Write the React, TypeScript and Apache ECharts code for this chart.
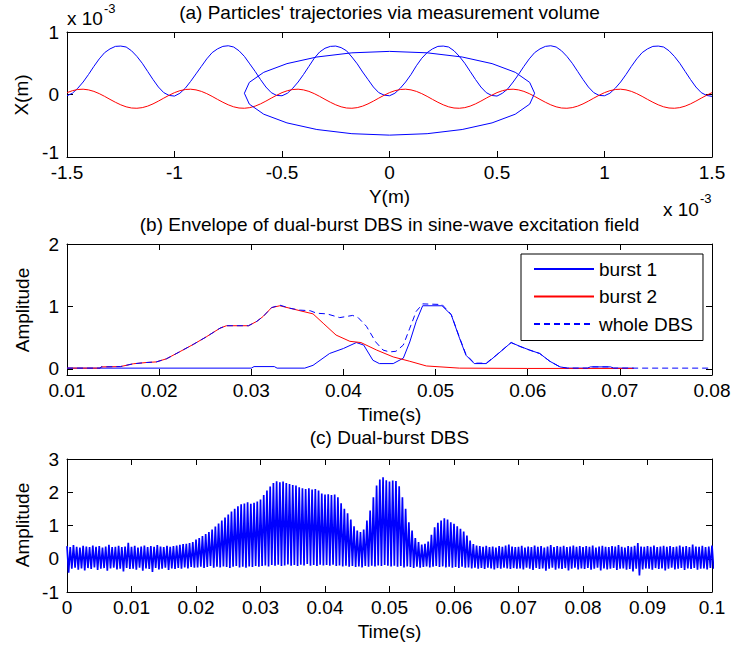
import React, { useEffect, useRef } from "react";
import * as echarts from "echarts";

// ---------- (a) Particles' trajectories (Y and X in units of 1e-3 m) ----------
const trajStartY = -1.5;
const trajStepY = 0.025;
const blueTrajX = [
  -0.02, 0.02, 0.10, 0.20, 0.32, 0.45, 0.57, 0.67, 0.73, 0.77, 0.775, 0.76, 0.70, 0.61, 0.50, 0.37, 0.24, 0.12, 0.03, -0.015,
  -0.025, 0.02, 0.10, 0.21, 0.33, 0.45, 0.57, 0.67, 0.73, 0.77, 0.78, 0.76, 0.70, 0.61, 0.49, 0.37, 0.24, 0.12, 0.03, -0.015,
  -0.02, 0.02, 0.10, 0.20, 0.32, 0.45, 0.58, 0.68, 0.74, 0.77, 0.775, 0.75, 0.70, 0.60, 0.49, 0.36, 0.24, 0.12, 0.03, -0.01,
  -0.02, 0.02, 0.10, 0.20, 0.32, 0.46, 0.58, 0.67, 0.73, 0.77, 0.775, 0.76, 0.70, 0.61, 0.50, 0.37, 0.24, 0.12, 0.03, -0.015,
  -0.025, 0.02, 0.09, 0.20, 0.32, 0.45, 0.57, 0.67, 0.73, 0.77, 0.78, 0.76, 0.70, 0.61, 0.50, 0.37, 0.24, 0.12, 0.03, -0.015,
  -0.02, 0.02, 0.10, 0.20, 0.32, 0.45, 0.57, 0.67, 0.73, 0.77, 0.775, 0.76, 0.70, 0.61, 0.50, 0.37, 0.24, 0.12, 0.03, -0.015,
  -0.03,
];
const redTrajX = [
  0.03, 0.061, 0.08, 0.085, 0.074, 0.05, 0.014, -0.03, -0.078, -0.124, -0.165, -0.197, -0.216, -0.22, -0.21, -0.186, -0.15, -0.106, -0.058, -0.012,
  0.03, 0.061, 0.08, 0.085, 0.074, 0.05, 0.014, -0.03, -0.078, -0.124, -0.165, -0.197, -0.216, -0.22, -0.21, -0.186, -0.15, -0.106, -0.058, -0.012,
  0.03, 0.061, 0.08, 0.085, 0.074, 0.05, 0.014, -0.03, -0.078, -0.124, -0.165, -0.197, -0.216, -0.22, -0.21, -0.186, -0.15, -0.106, -0.058, -0.012,
  0.03, 0.061, 0.08, 0.085, 0.074, 0.05, 0.014, -0.03, -0.078, -0.124, -0.165, -0.197, -0.216, -0.22, -0.21, -0.186, -0.15, -0.106, -0.058, -0.012,
  0.03, 0.061, 0.08, 0.085, 0.074, 0.05, 0.014, -0.03, -0.078, -0.124, -0.165, -0.197, -0.216, -0.22, -0.21, -0.186, -0.15, -0.106, -0.058, -0.012,
  0.03, 0.061, 0.08, 0.085, 0.074, 0.05, 0.014, -0.03, -0.078, -0.124, -0.165, -0.197, -0.216, -0.22, -0.21, -0.186, -0.15, -0.106, -0.058, -0.012,
  0.03,
];
const ellipseY = [0.675, 0.652, 0.585, 0.477, 0.338, 0.175, 0, -0.175, -0.338, -0.477, -0.585, -0.652, -0.675,
  -0.652, -0.585, -0.477, -0.338, -0.175, 0, 0.175, 0.338, 0.477, 0.585, 0.652, 0.675];
const ellipseX = [0.02, 0.194, 0.355, 0.494, 0.6, 0.667, 0.69, 0.667, 0.6, 0.494, 0.355, 0.194, 0.02,
  -0.154, -0.315, -0.454, -0.56, -0.627, -0.65, -0.627, -0.56, -0.454, -0.315, -0.154, 0.02];
const ticksAx = [-1.5, -1, -0.5, 0, 0.5, 1, 1.5];
const ticksAy = [-1, 0, 1];

// ---------- (b) Envelopes ----------
const burst1T = [0.010, 0.0300, 0.0303, 0.0325, 0.0328, 0.0358, 0.0367, 0.0385, 0.0400, 0.0414, 0.0422, 0.0432, 0.0439,
  0.0454, 0.0465, 0.0472, 0.0479, 0.0486, 0.0507, 0.0517, 0.0526, 0.0533, 0.0542, 0.0555, 0.0566, 0.0582, 0.0591,
  0.0602, 0.0613, 0.0624, 0.0635, 0.0643, 0.0665, 0.0668, 0.0690, 0.0693, 0.0715];
const burst1A = [0.01, 0.01, 0.035, 0.035, 0.01, 0.01, 0.055, 0.245, 0.325, 0.42, 0.38, 0.136, 0.083,
  0.083, 0.17, 0.43, 0.76, 1.01, 1.01, 0.865, 0.49, 0.217, 0.083, 0.083, 0.217, 0.42, 0.363,
  0.30, 0.245, 0.12, 0.03, 0.01, 0.01, 0.03, 0.03, 0.01, 0.01];
const burst2T = [0.010, 0.0136, 0.0137, 0.0158, 0.0172, 0.0186, 0.0197, 0.0208, 0.0222, 0.0237, 0.0251, 0.0266, 0.0273,
  0.0297, 0.0306, 0.0313, 0.0322, 0.0331, 0.0342, 0.0353, 0.0367, 0.0378, 0.0392, 0.0407, 0.0419, 0.0436, 0.0454,
  0.0472, 0.0490, 0.0526, 0.0600, 0.0715];
const burst2A = [0.01, 0.01, 0.03, 0.035, 0.08, 0.10, 0.11, 0.16, 0.27, 0.39, 0.51, 0.65, 0.69,
  0.69, 0.76, 0.84, 0.98, 1.01, 0.97, 0.93, 0.88, 0.73, 0.54, 0.44, 0.42, 0.30, 0.19,
  0.12, 0.045, 0.01, 0.005, 0.005];
const wholeT = [0.010, 0.0136, 0.0137, 0.0158, 0.0172, 0.0186, 0.0197, 0.0208, 0.0222, 0.0237, 0.0251, 0.0266, 0.0273,
  0.0297, 0.0306, 0.0313, 0.0322, 0.0331, 0.0342, 0.0353, 0.0364, 0.0371, 0.0382, 0.0396, 0.0410, 0.0416, 0.0425,
  0.0435, 0.0443, 0.0450, 0.0457, 0.0465, 0.0472, 0.0479, 0.0486, 0.0507, 0.0517, 0.0526, 0.0533, 0.0542, 0.0555,
  0.0566, 0.0582, 0.0591, 0.0602, 0.0613, 0.0624, 0.0635, 0.0643, 0.0665, 0.0668, 0.0690, 0.0693, 0.0800];
const wholeA = [0.01, 0.01, 0.03, 0.035, 0.08, 0.10, 0.11, 0.16, 0.27, 0.39, 0.51, 0.65, 0.69,
  0.69, 0.76, 0.84, 0.98, 1.02, 0.97, 0.94, 0.93, 0.89, 0.88, 0.82, 0.855, 0.82, 0.68,
  0.43, 0.30, 0.27, 0.28, 0.38, 0.65, 0.92, 1.04, 1.03, 0.87, 0.50, 0.23, 0.09, 0.09,
  0.22, 0.42, 0.36, 0.30, 0.245, 0.12, 0.03, 0.01, 0.01, 0.03, 0.03, 0.01, 0.01];
const ticksBx = [0.01, 0.02, 0.03, 0.04, 0.05, 0.06, 0.07, 0.08];
const ticksBy = [0, 1, 2];
const legendNames = ["burst 1", "burst 2", "whole DBS"];

// ---------- (c) Dual-burst DBS (upper / lower swing of the signal every 0.5 ms) ----------
const dbsStep = 0.0005;
const dbsUpper = [
  0.38, 0.35, 0.41, 0.36, 0.34, 0.39, 0.37, 0.35, 0.40, 0.36, 0.38, 0.34, 0.37, 0.42, 0.35, 0.36, 0.39, 0.35, 0.37, 0.48,
  0.36, 0.39, 0.34, 0.37, 0.40, 0.35, 0.38, 0.36, 0.41, 0.37, 0.35, 0.39, 0.36, 0.38, 0.40, 0.42, 0.44, 0.45, 0.47, 0.50,
  0.58, 0.62, 0.68, 0.74, 0.80, 0.88, 0.97, 1.06, 1.15, 1.24, 1.33, 1.42, 1.50, 1.58, 1.64, 1.66, 1.70, 1.65, 1.68, 1.72,
  1.78, 1.92, 2.05, 2.17, 2.28, 2.33, 2.30, 2.32, 2.28, 2.25, 2.22, 2.20, 2.15, 2.12, 2.10, 2.12, 2.08, 2.10, 2.05, 1.96,
  1.93, 1.94, 1.92, 1.93, 1.85, 1.67, 1.50, 1.37, 1.18, 0.98, 0.85, 0.80, 0.88, 1.15, 1.45, 1.85, 2.20, 2.38, 2.45, 2.36,
  2.32, 2.35, 2.34, 2.18, 1.85, 1.50, 1.10, 0.85, 0.62, 0.50, 0.43, 0.45, 0.52, 0.72, 0.95, 1.08, 1.15, 1.22, 1.18, 1.10,
  1.05, 0.98, 0.90, 0.82, 0.70, 0.55, 0.44, 0.40, 0.38, 0.36, 0.39, 0.35, 0.37, 0.34, 0.38, 0.36, 0.40, 0.43, 0.37, 0.35,
  0.36, 0.39, 0.34, 0.37, 0.35, 0.40, 0.36, 0.38, 0.34, 0.37, 0.41, 0.35, 0.38, 0.36, 0.39, 0.35, 0.37, 0.40, 0.36, 0.38,
  0.35, 0.38, 0.36, 0.40, 0.34, 0.37, 0.39, 0.36, 0.35, 0.38, 0.37, 0.41, 0.36, 0.34, 0.38, 0.36, 0.39, 0.47, 0.37, 0.36,
  0.38, 0.36, 0.40, 0.35, 0.37, 0.39, 0.36, 0.38, 0.35, 0.37, 0.40, 0.36, 0.38, 0.35, 0.43, 0.37, 0.36, 0.39, 0.35, 0.37, 0.40,
];
const dbsLower = [
  -0.42, -0.30, -0.27, -0.33, -0.29, -0.35, -0.28, -0.31, -0.26, -0.34, -0.30, -0.28, -0.36, -0.29, -0.27, -0.32, -0.30, -0.38, -0.28, -0.31,
  -0.30, -0.33, -0.27, -0.36, -0.29, -0.31, -0.40, -0.28, -0.32, -0.30, -0.27, -0.34, -0.29, -0.31, -0.28, -0.30, -0.26, -0.29, -0.25, -0.27,
  -0.26, -0.24, -0.28, -0.25, -0.22, -0.27, -0.24, -0.26, -0.23, -0.25, -0.28, -0.24, -0.22, -0.26, -0.24, -0.27, -0.23, -0.25, -0.22, -0.24,
  -0.22, -0.20, -0.23, -0.19, -0.21, -0.18, -0.22, -0.20, -0.17, -0.21, -0.19, -0.22, -0.18, -0.20, -0.16, -0.21, -0.19, -0.22, -0.18, -0.20,
  -0.19, -0.21, -0.18, -0.22, -0.20, -0.23, -0.21, -0.24, -0.22, -0.25, -0.23, -0.26, -0.22, -0.24, -0.21, -0.23, -0.20, -0.22, -0.19, -0.21,
  -0.23, -0.21, -0.24, -0.22, -0.26, -0.23, -0.25, -0.28, -0.24, -0.27, -0.25, -0.23, -0.26, -0.24, -0.22, -0.25, -0.23, -0.26, -0.24, -0.27,
  -0.25, -0.28, -0.24, -0.27, -0.26, -0.29, -0.27, -0.30, -0.28, -0.31, -0.27, -0.29, -0.32, -0.28, -0.30, -0.27, -0.29, -0.31, -0.28, -0.30,
  -0.29, -0.32, -0.27, -0.30, -0.34, -0.28, -0.31, -0.29, -0.36, -0.30, -0.27, -0.33, -0.29, -0.31, -0.28, -0.35, -0.30, -0.27, -0.32, -0.29,
  -0.31, -0.28, -0.33, -0.30, -0.27, -0.35, -0.29, -0.32, -0.30, -0.28, -0.34, -0.30, -0.29, -0.33, -0.31, -0.38, -0.30, -0.50, -0.32, -0.29,
  -0.30, -0.33, -0.28, -0.31, -0.29, -0.35, -0.30, -0.27, -0.32, -0.30, -0.28, -0.34, -0.29, -0.31, -0.28, -0.33, -0.30, -0.29, -0.32, -0.28, -0.30,
];
const ticksCx = [0, 0.01, 0.02, 0.03, 0.04, 0.05, 0.06, 0.07, 0.08, 0.09, 0.1];
const ticksCy = [-1, 0, 1, 2, 3];

// ---------- styling ----------
const FONT = "'Liberation Sans', Arial, Helvetica, sans-serif";
const FS = 19;
const BLUE = "#0000ff";
const RED = "#ff0000";

const fmt = (v: number) => String(+v.toFixed(4));

function boxAxes(grid: number, min: number, max: number, ticks: number[], dim: "x" | "y", liftMin = false) {
  const common = {
    type: "value",
    gridIndex: grid,
    min,
    max,
    splitLine: { show: false },
    axisLine: { show: true, onZero: false, lineStyle: { color: "#000", width: 1 } },
  };
  const main = {
    ...common,
    position: dim === "x" ? "bottom" : "left",
    axisTick: { show: true, inside: true, length: 6, lineStyle: { color: "#000" }, customValues: ticks },
    axisLabel: {
      show: true,
      margin: 8,
      color: "#000",
      fontSize: FS,
      lineHeight: 15,
      fontFamily: FONT,
      formatter: (v: number) => (liftMin && v === min ? "{lo|" + fmt(v) + "}" : fmt(v)),
      rich: { lo: { fontSize: FS, fontFamily: FONT, color: "#000", lineHeight: 15, padding: [0, 0, 9, 0] } },
      customValues: ticks,
      showMinLabel: true,
      showMaxLabel: true,
    },
  };
  const mirror = {
    ...common,
    position: dim === "x" ? "top" : "right",
    axisTick: { show: true, inside: true, length: 6, lineStyle: { color: "#000" }, customValues: ticks },
    axisLabel: { show: false, customValues: ticks },
  };
  return [main, mirror];
}

function txt(text: string, x: number, y: number, o: { fs?: number; align?: string; rot?: number } = {}) {
  const align = o.align || "center";
  return {
    type: "text",
    x,
    y,
    rotation: o.rot || 0,
    silent: true,
    style: {
      text,
      fill: "#000",
      fontSize: o.fs || FS,
      fontFamily: FONT,
      align,
      verticalAlign: "middle",
      textAlign: align,
      textVerticalAlign: "middle",
    },
  };
}

const pairs = (xs: number[], ys: number[]) => xs.map((x, i) => [x, ys[i]]);

export default function App() {
  const ref = useRef<HTMLDivElement>(null);
  useEffect(() => {
    if (!ref.current) return;
    const chart = echarts.init(ref.current, undefined, { renderer: "svg" });

    const blueData = blueTrajX.map((v, i) => [trajStartY + i * trajStepY, v]);
    const redData = redTrajX.map((v, i) => [trajStartY + i * trajStepY, v]);
    const ellipseData = pairs(ellipseY, ellipseX);

    const dbsData: number[][] = [];
    dbsUpper.forEach((u, i) => {
      dbsData.push([i * dbsStep, u]);
      dbsData.push([i * dbsStep + dbsStep / 2, dbsLower[i]]);
    });

    const plotCx = 389.5;

    const option: any = {
      animation: false,
      backgroundColor: "#fff",
      textStyle: { fontFamily: FONT },
      grid: [
        { left: 67, top: 32, width: 645, height: 125, outerBoundsMode: "none" },
        { left: 67, top: 244, width: 645, height: 131, outerBoundsMode: "none" },
        { left: 67, top: 459, width: 645, height: 133, outerBoundsMode: "none" },
      ],
      xAxis: [
        ...boxAxes(0, -1.5, 1.5, ticksAx, "x"),
        ...boxAxes(1, 0.01, 0.08, ticksBx, "x"),
        ...boxAxes(2, 0, 0.1, ticksCx, "x"),
      ],
      yAxis: [
        ...boxAxes(0, -1, 1, ticksAy, "y", true),
        ...boxAxes(1, -0.1, 2, ticksBy, "y"),
        ...boxAxes(2, -1, 3, ticksCy, "y"),
      ],
      legend: {
        data: legendNames,
        orient: "vertical",
        left: 521,
        top: 254,
        itemWidth: 60,
        itemHeight: 14,
        itemGap: 8.5,
        padding: [5.5, 10, 7, 12],
        borderColor: "#000",
        borderWidth: 1,
        backgroundColor: "#fff",
        itemStyle: { color: "rgba(0,0,0,0)", borderColor: "rgba(0,0,0,0)", borderWidth: 0 },
        textStyle: { color: "#000", fontSize: FS, fontFamily: FONT },
      },
      graphic: [
        txt("(a) Particles' trajectories via measurement volume", plotCx, 12),
        txt("(b) Envelope of dual-burst DBS in sine-wave excitation field", plotCx, 224),
        txt("(c) Dual-burst DBS", plotCx, 437),
        txt("Y(m)", plotCx, 196),
        txt("Time(s)", plotCx, 414),
        txt("Time(s)", plotCx, 631),
        txt("X(m)", 21, 95, { rot: Math.PI / 2 }),
        txt("Amplitude", 22, 310, { rot: Math.PI / 2 }),
        txt("Amplitude", 22, 525, { rot: Math.PI / 2 }),
        txt("x 10", 67, 18, { align: "left" }),
        txt("-3", 104, 8, { align: "left", fs: 13 }),
        txt("x 10", 663, 209, { align: "left" }),
        txt("-3", 700, 198, { align: "left", fs: 13 }),
      ],
      series: [
        { type: "line", name: "traj 1", xAxisIndex: 0, yAxisIndex: 0, data: blueData, symbol: "none", lineStyle: { color: BLUE, width: 1 }, itemStyle: { color: BLUE } },
        { type: "line", name: "traj 2", xAxisIndex: 0, yAxisIndex: 0, data: redData, symbol: "none", lineStyle: { color: RED, width: 1 }, itemStyle: { color: RED } },
        { type: "line", name: "volume", xAxisIndex: 0, yAxisIndex: 0, data: ellipseData, symbol: "none", lineStyle: { color: BLUE, width: 1 }, itemStyle: { color: BLUE } },
        { type: "line", name: "burst 1", xAxisIndex: 2, yAxisIndex: 2, data: pairs(burst1T, burst1A), symbol: "none", lineStyle: { color: BLUE, width: 1 }, itemStyle: { color: BLUE } },
        { type: "line", name: "burst 2", xAxisIndex: 2, yAxisIndex: 2, data: pairs(burst2T, burst2A), symbol: "none", lineStyle: { color: RED, width: 1 }, itemStyle: { color: RED } },
        { type: "line", name: "whole DBS", xAxisIndex: 2, yAxisIndex: 2, data: pairs(wholeT, wholeA), symbol: "none", lineStyle: { color: BLUE, width: 1, type: [6, 4] }, itemStyle: { color: BLUE } },
        { type: "line", name: "DBS signal", xAxisIndex: 4, yAxisIndex: 4, data: dbsData, symbol: "none", lineStyle: { color: BLUE, width: 1.7 }, itemStyle: { color: BLUE } },
      ],
    };
    chart.setOption(option);
    return () => chart.dispose();
  }, []);

  return (
    <div
      ref={ref}
      style={{ position: "absolute", left: 0, top: 0, width: 734, height: 647, background: "#fff" }}
    />
  );
}
